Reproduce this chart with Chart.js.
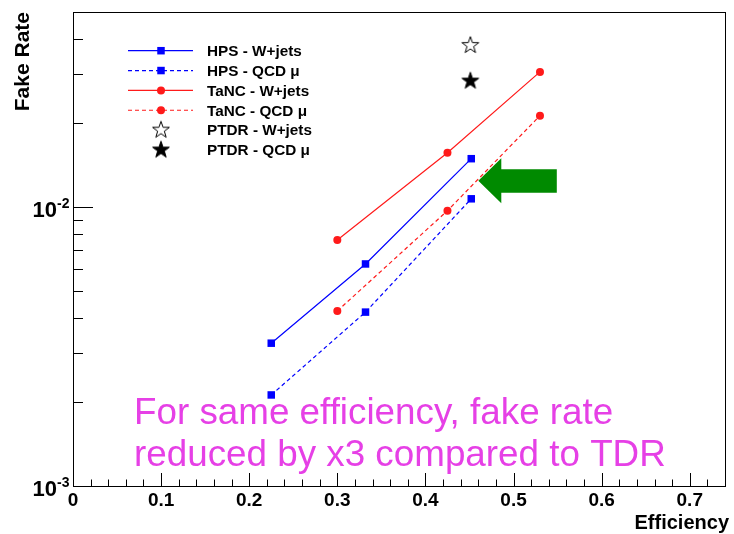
<!DOCTYPE html>
<html>
<head>
<meta charset="utf-8">
<script src="https://cdn.jsdelivr.net/npm/chart.js@4.4.1/dist/chart.umd.min.js"></script>
<style>
  html, body { margin: 0; padding: 0; background: #fff; }
  canvas { display: block; }
</style>
</head>
<body>
<canvas id="fakeRate" width="734" height="534"></canvas>
<script>
// values
const hpsEff = [0.225, 0.332, 0.452];
const hpsWjets = [0.00325, 0.00625, 0.0149];
const hpsQcd = [0.00212, 0.0042, 0.0107];
const tancEff = [0.300, 0.425, 0.530];
const tancWjets = [0.00762, 0.01565, 0.0305];
const tancQcd = [0.00424, 0.0097, 0.02125];
const ptdrEff = [0.451];
const ptdrWjets = [0.0381];
const ptdrQcd = [0.0284];

const seriesNames = ['HPS - W+jets', 'HPS - QCD \u03bc', 'TaNC - W+jets', 'TaNC - QCD \u03bc', 'PTDR - W+jets', 'PTDR - QCD \u03bc'];
const xTicks = [0, 0.1, 0.2, 0.3, 0.4, 0.5, 0.6, 0.7];
const xTickLabels = ['0', '0.1', '0.2', '0.3', '0.4', '0.5', '0.6', '0.7'];
const yDecades = [0.001, 0.01];
const yDecadeLabels = ['-3', '-2'];
const noteLines = ['For same efficiency, fake rate', 'reduced by x3 compared to TDR'];
const arrowTip = { x: 0.46, y: 0.01243 };

const FONT = '"Liberation Sans", Arial, Helvetica, sans-serif';

function pts(xs, ys) {
  return xs.map((x, i) => ({ x: x, y: ys[i] }));
}

function makeStar(filled) {
  const c = document.createElement('canvas');
  c.width = 20; c.height = 20;
  const g = c.getContext('2d');
  g.beginPath();
  for (let i = 0; i < 10; i++) {
    const r = i % 2 === 0 ? 8.8 : 3.5;
    const a = -Math.PI / 2 + i * Math.PI / 5;
    const px = 10 + r * Math.cos(a), py = 10.5 + r * Math.sin(a);
    if (i === 0) g.moveTo(px, py); else g.lineTo(px, py);
  }
  g.closePath();
  g.fillStyle = filled ? '#000' : '#fff';
  g.fill();
  g.strokeStyle = '#000';
  g.lineWidth = 1;
  g.stroke();
  return c;
}
const openStar = makeStar(false);
const fullStar = makeStar(true);

const blue = '#0000ff', red = '#ff1a1a';

const datasets = [
  { label: seriesNames[0], data: pts(hpsEff, hpsWjets), borderColor: blue, backgroundColor: blue,
    pointStyle: 'rect', pointRadius: 5.3, borderWidth: 1.2, borderDash: [] },
  { label: seriesNames[1], data: pts(hpsEff, hpsQcd), borderColor: blue, backgroundColor: blue,
    pointStyle: 'rect', pointRadius: 5.3, borderWidth: 1.2, borderDash: [4, 3] },
  { label: seriesNames[2], data: pts(tancEff, tancWjets), borderColor: red, backgroundColor: red,
    pointStyle: 'circle', pointRadius: 4, borderWidth: 1.2, borderDash: [] },
  { label: seriesNames[3], data: pts(tancEff, tancQcd), borderColor: red, backgroundColor: red,
    pointStyle: 'circle', pointRadius: 4, borderWidth: 1.2, borderDash: [4, 3] },
  { label: seriesNames[4], data: pts(ptdrEff, ptdrWjets), showLine: false,
    pointStyle: openStar, borderColor: '#000', backgroundColor: '#fff' },
  { label: seriesNames[5], data: pts(ptdrEff, ptdrQcd), showLine: false,
    pointStyle: fullStar, borderColor: '#000', backgroundColor: '#000' }
];
datasets.forEach(d => { d.pointBorderWidth = 0; d.pointHoverRadius = d.pointRadius; });

// frame, ticks, labels, legend, note
const rootStyle = {
  id: 'rootStyle',
  beforeDatasetsDraw(chart) {
    const ctx = chart.ctx;
    const { x, y } = chart.scales;
    const tx = x.getPixelForValue(arrowTip.x), ty = y.getPixelForValue(arrowTip.y);
    ctx.save();
    ctx.fillStyle = '#008a00';
    ctx.beginPath();
    ctx.moveTo(tx, ty);
    ctx.lineTo(tx + 23, ty - 22.5);
    ctx.lineTo(tx + 23, ty - 11.5);
    ctx.lineTo(tx + 78.5, ty - 11.5);
    ctx.lineTo(tx + 78.5, ty + 12);
    ctx.lineTo(tx + 23, ty + 12);
    ctx.lineTo(tx + 23, ty + 22.5);
    ctx.closePath();
    ctx.fill();
    ctx.restore();
  },
  afterDatasetsDraw(chart) {
    const ctx = chart.ctx;
    const a = chart.chartArea;
    const { x, y } = chart.scales;
    ctx.save();
    ctx.strokeStyle = '#000';
    ctx.lineWidth = 1;
    ctx.strokeRect(Math.round(a.left) + 0.5, Math.round(a.top) + 0.5,
      Math.round(a.right - a.left), Math.round(a.bottom - a.top));

    // x ticks
    ctx.beginPath();
    for (let v = 0; v <= x.max + 1e-9; v += 0.02) {
      const px = Math.round(x.getPixelForValue(v)) + 0.5;
      const major = Math.abs(v * 10 - Math.round(v * 10)) < 1e-6;
      ctx.moveTo(px, a.bottom);
      ctx.lineTo(px, a.bottom - (major ? 13 : 6.5));
    }
    // y ticks
    yDecades.forEach(d => {
      for (let m = 1; m <= 9; m++) {
        const v = d * m;
        if (v > y.max * 1.0001) break;
        const py = Math.round(y.getPixelForValue(v)) + 0.5;
        ctx.moveTo(a.left, py);
        ctx.lineTo(a.left + (m === 1 ? 20 : 10), py);
      }
    });
    ctx.stroke();

    // tick labels
    ctx.fillStyle = '#000';
    ctx.font = 'bold 19px ' + FONT;
    ctx.textAlign = 'center';
    ctx.textBaseline = 'alphabetic';
    xTicks.forEach((v, i) => ctx.fillText(xTickLabels[i], x.getPixelForValue(v), 506));
    yDecades.forEach((v, i) => {
      const py = y.getPixelForValue(v);
      ctx.font = 'bold 22px ' + FONT;
      ctx.textAlign = 'right';
      ctx.fillText('10', 57, py + 10);
      ctx.font = 'bold 14px ' + FONT;
      ctx.textAlign = 'left';
      ctx.fillText(yDecadeLabels[i], 57, py + 1);
    });

    // axis titles
    ctx.font = 'bold 20px ' + FONT;
    ctx.textAlign = 'right';
    ctx.fillText('Efficiency', 729, 529);
    ctx.save();
    ctx.translate(28.5, a.top);
    ctx.rotate(-Math.PI / 2);
    ctx.font = 'bold 21px ' + FONT;
    ctx.textAlign = 'right';
    ctx.fillText('Fake Rate', 0, 0);
    ctx.restore();

    // legend
    chart.data.datasets.forEach((d, i) => {
      const ry = 50.7 + i * 19.85;
      if (d.showLine !== false) {
        ctx.save();
        ctx.strokeStyle = d.borderColor;
        ctx.lineWidth = d.borderWidth;
        ctx.setLineDash(d.borderDash);
        ctx.beginPath();
        ctx.moveTo(128, ry);
        ctx.lineTo(193, ry);
        ctx.stroke();
        ctx.restore();
      }
      ctx.save();
      ctx.fillStyle = d.backgroundColor;
      if (d.pointStyle === 'rect') {
        const s = d.pointRadius * Math.SQRT1_2;
        ctx.fillRect(161 - s, ry - s, 2 * s, 2 * s);
      } else if (d.pointStyle === 'circle') {
        ctx.beginPath();
        ctx.arc(161, ry, d.pointRadius, 0, Math.PI * 2);
        ctx.fill();
      } else {
        ctx.drawImage(d.pointStyle, 161 - 10, ry - 10.5);
      }
      ctx.restore();
      ctx.fillStyle = '#000';
      ctx.font = 'bold 15.3px ' + FONT;
      ctx.textAlign = 'left';
      ctx.fillText(d.label, 207, ry + 5.3);
    });

    // note
    ctx.fillStyle = '#e640e6';
    ctx.font = '36.8px ' + FONT;
    ctx.textAlign = 'left';
    ctx.fillText(noteLines[0], 134, 424);
    ctx.fillText(noteLines[1], 134, 466);
    ctx.restore();
  }
};

new Chart(document.getElementById('fakeRate'), {
  type: 'line',
  data: { datasets: datasets },
  options: {
    responsive: false,
    animation: false,
    layout: { padding: { left: 73, right: 9, top: 12, bottom: 48 } },
    scales: {
      x: {
        type: 'linear', min: 0, max: 0.74,
        grid: { display: false }, border: { display: false }, ticks: { display: false },
        afterFit: (s) => { s.height = 0; }
      },
      y: {
        type: 'logarithmic', min: 0.001, max: 0.05,
        grid: { display: false }, border: { display: false }, ticks: { display: false },
        afterFit: (s) => { s.width = 0; }
      }
    },
    plugins: {
      legend: { display: false },
      tooltip: { enabled: false }
    }
  },
  plugins: [rootStyle]
});
</script>
</body>
</html>
